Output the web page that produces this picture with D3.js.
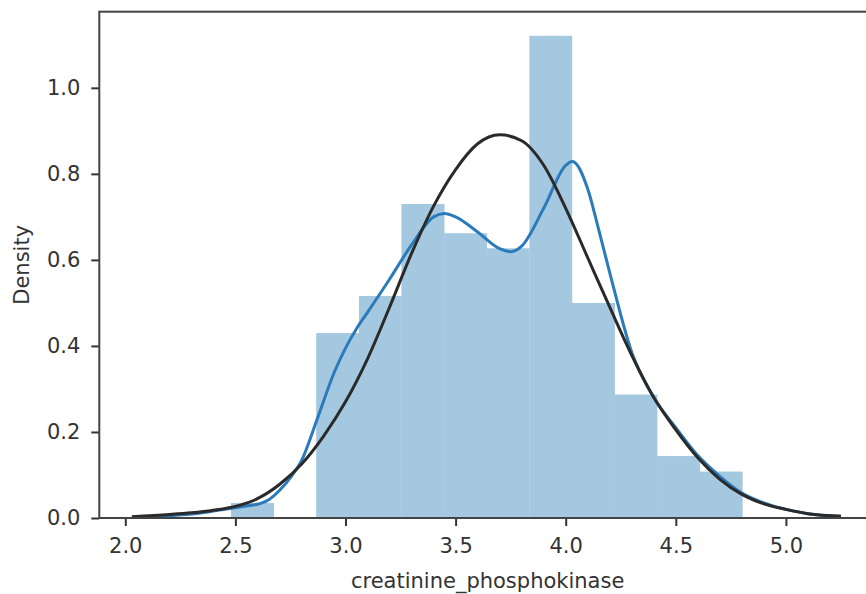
<!DOCTYPE html>
<html>
<head>
<meta charset="utf-8">
<script src="https://cdn.jsdelivr.net/npm/d3@7"></script>
<style>
  body { margin: 0; background: #fff; }
  text { font-family: "DejaVu Sans", sans-serif; }
</style>
</head>
<body>
<div id="main"></div>
<script>
// histogram (density normalised), bin edges in data units
const binEdges = [2.480, 2.674, 2.867, 3.061, 3.254, 3.448, 3.641, 3.835, 4.028, 4.222, 4.415, 4.609, 4.802];
const binDensity = [0.035, 0, 0.43, 0.516, 0.73, 0.662, 0.627, 1.121, 0.50, 0.287, 0.144, 0.108];

// kde curve (blue)
const kdeX = [2.03, 2.2, 2.3, 2.4, 2.5, 2.55, 2.6, 2.65, 2.7, 2.75, 2.8, 2.87, 2.95, 3.0, 3.05, 3.1, 3.2, 3.3, 3.4, 3.45, 3.5, 3.6, 3.7, 3.75, 3.8, 3.9, 4.0, 4.03, 4.1, 4.15, 4.2, 4.3, 4.4, 4.5, 4.6, 4.7, 4.8, 4.9, 5.0, 5.1, 5.25];
const kdeY = [0.002, 0.005, 0.009, 0.016, 0.024, 0.028, 0.032, 0.042, 0.064, 0.094, 0.133, 0.228, 0.34, 0.395, 0.44, 0.478, 0.555, 0.635, 0.70, 0.708, 0.70, 0.665, 0.626, 0.619, 0.632, 0.72, 0.82, 0.829, 0.765, 0.67, 0.57, 0.385, 0.28, 0.21, 0.145, 0.097, 0.058, 0.035, 0.02, 0.01, 0.004];

// fitted normal curve (black)
const fitX = [2.03, 2.2, 2.3, 2.4, 2.5, 2.6, 2.7, 2.8, 2.9, 3.0, 3.1, 3.2, 3.3, 3.4, 3.5, 3.6, 3.7, 3.8, 3.9, 4.0, 4.1, 4.2, 4.3, 4.4, 4.5, 4.6, 4.7, 4.8, 4.9, 5.0, 5.1, 5.25];
const fitY = [0.003, 0.008, 0.012, 0.018, 0.027, 0.045, 0.078, 0.125, 0.19, 0.27, 0.37, 0.49, 0.615, 0.725, 0.81, 0.87, 0.891, 0.877, 0.82, 0.72, 0.605, 0.49, 0.378, 0.28, 0.205, 0.14, 0.09, 0.055, 0.033, 0.02, 0.01, 0.004];

const xTicks = [2.0, 2.5, 3.0, 3.5, 4.0, 4.5, 5.0];
const yTicks = [0.0, 0.2, 0.4, 0.6, 0.8, 1.0];

const margin = { top: 11.7, left: 99.3 };
const width = 776.7;
const height = 506.3;

const svg = d3.select('#main').append('svg')
  .attr('width', 866)
  .attr('height', 594);

const g = svg.append('g')
  .attr('transform', 'translate(' + margin.left + ',' + margin.top + ')');

const x = d3.scaleLinear().domain([1.882, 5.409]).range([0, width]);
const y = d3.scaleLinear().domain([0, 1.177]).range([height, 0]);

// bars
const bins = binDensity.map((d, i) => ({ x0: binEdges[i], x1: binEdges[i + 1], v: d }));
g.selectAll('.bar')
  .data(bins)
  .enter().append('rect')
  .attr('class', 'bar')
  .attr('x', d => x(d.x0))
  .attr('width', d => x(d.x1) - x(d.x0) + 0.3)
  .attr('y', d => y(d.v))
  .attr('height', d => height - y(d.v))
  .attr('fill', '#a5c8e1');

const line = d3.line()
  .x(d => x(d[0]))
  .y(d => y(d[1]))
  .curve(d3.curveMonotoneX);

g.append('path')
  .datum(kdeX.map((v, i) => [v, kdeY[i]]))
  .attr('d', line)
  .attr('fill', 'none')
  .attr('stroke', '#2b7bba')
  .attr('stroke-width', 3);

g.append('path')
  .datum(fitX.map((v, i) => [v, fitY[i]]))
  .attr('d', line)
  .attr('fill', 'none')
  .attr('stroke', '#2a2a2a')
  .attr('stroke-width', 3);

// axes
const xAxis = g.append('g')
  .attr('transform', 'translate(0,' + height + ')')
  .call(d3.axisBottom(x).tickValues(xTicks).tickFormat(d3.format('.1f'))
    .tickSize(8).tickSizeOuter(0).tickPadding(12));
const yAxis = g.append('g')
  .call(d3.axisLeft(y).tickValues(yTicks).tickFormat(d3.format('.1f'))
    .tickSize(8).tickSizeOuter(0).tickPadding(11));

[xAxis, yAxis].forEach(a => {
  a.select('.domain').remove();
  a.selectAll('line').attr('stroke', '#333').attr('stroke-width', 2);
  a.selectAll('text').attr('fill', '#333').style('font-size', '21px')
    .style('font-family', '"DejaVu Sans", sans-serif');
});

// frame
g.append('rect')
  .attr('x', 0).attr('y', 0)
  .attr('width', width).attr('height', height)
  .attr('fill', 'none')
  .attr('stroke', '#444')
  .attr('stroke-width', 2);

// labels
svg.append('text')
  .attr('x', margin.left + width / 2)
  .attr('y', 588)
  .attr('text-anchor', 'middle')
  .attr('fill', '#333')
  .style('font-size', '21px')
  .text('creatinine_phosphokinase');

svg.append('text')
  .attr('transform', 'translate(29,' + (margin.top + height / 2) + ') rotate(-90)')
  .attr('text-anchor', 'middle')
  .attr('fill', '#333')
  .style('font-size', '21px')
  .text('Density');
</script>
</body>
</html>
